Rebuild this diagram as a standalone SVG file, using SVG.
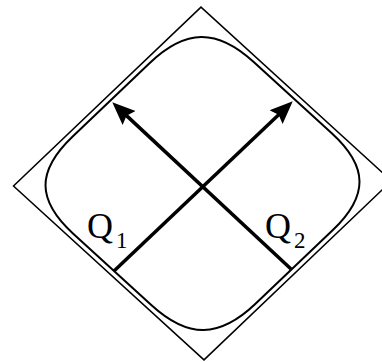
<svg xmlns="http://www.w3.org/2000/svg" width="382" height="362" viewBox="0 0 382 362">
  <defs>
    <style>
      .frame { fill: none; stroke: #000; stroke-width: 1.5; vector-effect: non-scaling-stroke; stroke-linejoin: miter; }
      .region { fill: none; stroke: #000; stroke-width: 2; vector-effect: non-scaling-stroke; }
      .axis { fill: none; stroke: #000; stroke-width: 3.5; }
      .lbl { font-family: "Liberation Serif", "Times New Roman", serif; fill: #000; }
    </style>
    <marker id="head" markerUnits="userSpaceOnUse" markerWidth="26" markerHeight="22" viewBox="0 -11 26 22" refX="9" refY="0" orient="auto">
      <path d="M0,-9.5 L23,0 L0,9.5 L3.5,0 Z" fill="#000"/>
    </marker>
  </defs>
  <rect width="382" height="362" fill="#fff"/>
  <g id="shapes" transform="matrix(1.05 -0.0139 0.0083 0.98 202.5 183.5)">
    <g id="frame">
      <polygon class="frame" points="0,-180 180,0 0,180 -180,0"/>
    </g>
    <g id="region">
      <path class="region" d="M -49.5,-123.5 C -14.8,-158.2 14.8,-158.2 49.5,-123.5 L 123.5,-49.5 C 158.2,-14.8 158.2,14.8 123.5,49.5 L 49.5,123.5 C 14.8,158.2 -14.8,158.2 -49.5,123.5 L -123.5,49.5 C -158.2,14.8 -158.2,-14.8 -123.5,-49.5 Z"/>
    </g>
  </g>
  <g id="connectors">
    <line class="axis" x1="114" y1="271" x2="282.6" y2="111" marker-end="url(#head)"/>
    <line class="axis" x1="291" y1="269" x2="122.5" y2="111.9" marker-end="url(#head)"/>
  </g>
  <g id="label-q1">
    <text class="lbl" x="87" y="238" font-size="36">Q</text>
    <text class="lbl" x="116" y="248" font-size="23">1</text>
  </g>
  <g id="label-q2">
    <text class="lbl" x="265" y="238" font-size="36">Q</text>
    <text class="lbl" x="294" y="248" font-size="23">2</text>
  </g>
</svg>
